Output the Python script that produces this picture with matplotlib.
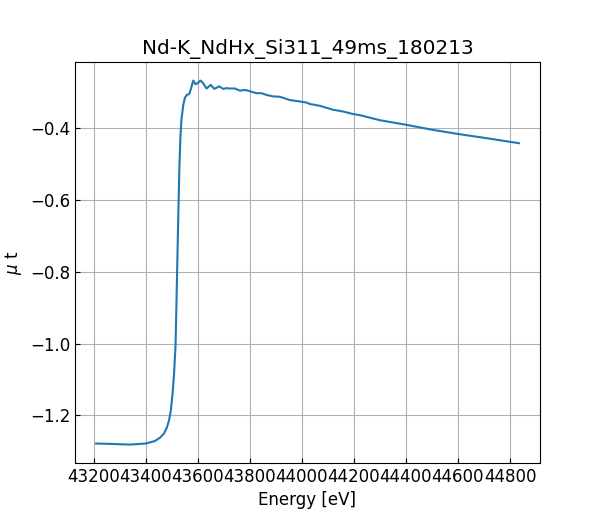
import numpy as np
import matplotlib
matplotlib.use("Agg")
import matplotlib.pyplot as plt

# Nd K-edge scan
energy = [43210, 43263, 43340, 43401, 43436, 43455, 43471, 43482, 43490, 43497,
          43503, 43509, 43515, 43518, 43522, 43526, 43530, 43534, 43538, 43545,
          43551, 43558, 43568, 43574, 43583, 43592, 43600, 43611, 43621, 43634,
          43650, 43664, 43683, 43698, 43711, 43724, 43743, 43762, 43781, 43794,
          43807, 43826, 43845, 43865, 43890, 43916, 43954, 43992, 44018, 44031,
          44069, 44120, 44159, 44197, 44223, 44299, 44402, 44504, 44606, 44709,
          44834]
mu_t = [-1.278, -1.279, -1.281, -1.278, -1.271, -1.262, -1.250, -1.233, -1.214, -1.186,
        -1.144, -1.089, -1.006, -0.908, -0.769, -0.631, -0.506, -0.422, -0.375, -0.336,
        -0.317, -0.309, -0.306, -0.292, -0.269, -0.279, -0.276, -0.269, -0.276, -0.291,
        -0.281, -0.292, -0.285, -0.292, -0.290, -0.291, -0.291, -0.297, -0.295, -0.297,
        -0.300, -0.304, -0.304, -0.309, -0.313, -0.314, -0.323, -0.327, -0.330, -0.334,
        -0.339, -0.350, -0.355, -0.362, -0.365, -0.379, -0.392, -0.406, -0.418, -0.429,
        -0.443]

plt.rcParams["font.size"] = 12

fig, ax = plt.subplots(figsize=(6, 5.2), dpi=100)
ax.plot(energy, mu_t)
ax.set_title("Nd-K_NdHx_Si311_49ms_180213")
ax.set_xlabel("Energy [eV]")
ax.set_ylabel(r"$\mu$ t")
ax.set_xticks(np.arange(43200, 44801, 200))
ax.tick_params(direction="in")
ax.grid(True)

plt.savefig("out.png")
